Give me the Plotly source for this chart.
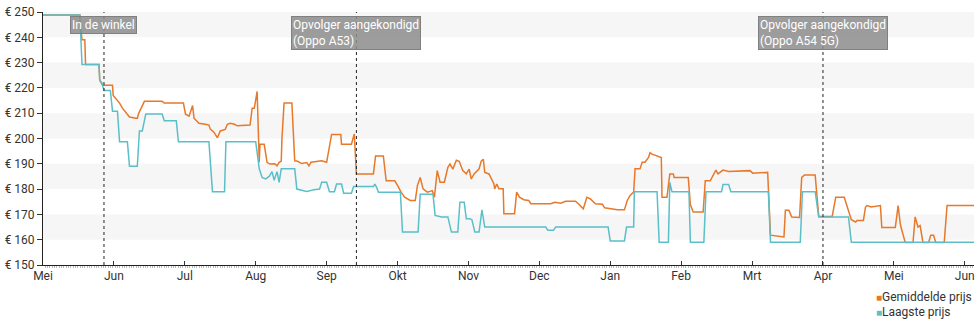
import plotly.graph_objects as go

# x positions are in months since "Mei" (0 = Mei, 1 = Jun, ...)
month_labels = ["Mei", "Jun", "Jul", "Aug", "Sep", "Okt", "Nov", "Dec",
                "Jan", "Feb", "Mrt", "Apr", "Mei", "Jun"]
y_ticks = [150, 160, 170, 180, 190, 200, 210, 220, 230, 240, 250]

avg_x = [0.00, 0.52, 0.53, 0.55, 0.59, 0.60, 0.79, 0.80, 0.84, 0.88, 0.98, 0.99, 1.02, 1.08, 1.12,
         1.15, 1.22, 1.31, 1.33, 1.35, 1.38, 1.43, 1.68, 1.71, 1.98, 2.01, 2.06, 2.11, 2.13, 2.20,
         2.29, 2.34, 2.36, 2.41, 2.46, 2.50, 2.57, 2.60, 2.64, 2.70, 2.74, 2.92, 2.95, 2.98, 3.02,
         3.03, 3.05, 3.06, 3.12, 3.16, 3.20, 3.27, 3.30, 3.33, 3.36, 3.37, 3.40, 3.51, 3.54, 3.55,
         3.59, 3.65, 3.72, 3.75, 3.78, 3.83, 3.93, 4.00, 4.03, 4.07, 4.20, 4.21, 4.35, 4.38, 4.39,
         4.42, 4.66, 4.69, 4.80, 4.84, 4.96, 5.00, 5.05, 5.10, 5.18, 5.25, 5.28, 5.32, 5.36, 5.42,
         5.49, 5.52, 5.55, 5.56, 5.60, 5.66, 5.71, 5.74, 5.78, 5.83, 5.87, 5.92, 5.97, 6.01, 6.04,
         6.08, 6.15, 6.18, 6.21, 6.23, 6.29, 6.33, 6.36, 6.37, 6.40, 6.43, 6.49, 6.50, 6.65, 6.68,
         6.72, 6.78, 6.85, 6.88, 7.13, 7.16, 7.22, 7.30, 7.37, 7.51, 7.55, 7.58, 7.62, 7.67, 7.72,
         7.79, 7.89, 7.92, 8.00, 8.10, 8.20, 8.24, 8.28, 8.33, 8.35, 8.42, 8.45, 8.49, 8.54, 8.56,
         8.59, 8.65, 8.72, 8.73, 8.80, 8.84, 8.89, 8.90, 9.10, 9.13, 9.17, 9.31, 9.34, 9.41, 9.45,
         9.49, 9.52, 9.59, 9.67, 9.97, 10.01, 10.22, 10.26, 10.45, 10.47, 10.52, 10.56, 10.67, 10.70,
         10.74, 10.89, 10.92, 10.94, 11.13, 11.18, 11.30, 11.34, 11.40, 11.46, 11.48, 11.57, 11.60,
         11.62, 11.68, 11.81, 11.83, 12.02, 12.06, 12.09, 12.10, 12.16, 12.27, 12.30, 12.34, 12.37,
         12.41, 12.49, 12.52, 12.56, 12.59, 12.71, 12.75, 13.13]
avg_price = [248.8, 248.8, 244, 239, 239, 229.2, 229.2, 223, 221, 221, 221, 217, 216, 214, 212,
             211, 208.5, 208, 208, 210, 212, 214.7, 214.7, 214, 214, 209.6, 208.8, 213, 208, 206,
             205.6, 205.3, 203.7, 202.5, 200.3, 203, 203.6, 205.6, 206, 205.6, 205, 205.3, 212, 212, 218.6,
             210, 190.6, 197.7, 197.7, 190.6, 189.9, 190, 189.2, 190.6, 191, 200, 214, 214, 200, 191.2,
             191, 190.1, 190.5, 189.2, 190.6, 190.8, 191.2, 190.6, 196, 201.6, 201.6, 197.7, 197.7, 201, 201.8,
             186, 186, 193.1, 193.1, 183.3, 183.3, 181.5, 178.8, 176.8, 175.5, 175.5, 181.4, 184.6, 180.1, 178.8,
             179.4, 176.8, 185.3, 187.3, 182.7, 182.7, 188.6, 189.9, 187.9, 191.4, 191, 187.3, 186, 187.9, 184,
             186, 188, 191, 191.8, 186.6, 186, 183.3, 182, 180.1, 182, 180.1, 180.1, 170.3, 170.3, 178.8,
             176.8, 175.8, 175.5, 174.2, 174, 174.2, 174.8, 174.4, 175.2, 175.2, 174.2, 173.5, 172.2, 176.8, 176.1,
             174.2, 174, 172.6, 172.2, 171.8, 171.8, 175.5, 177.5, 178.8, 188, 188, 190.6, 190.6, 192.5, 194.4,
             193.8, 193.1, 192.5, 176.8, 176.8, 186, 186, 184.6, 184.6, 173.9, 170.9, 170.9, 183.3, 183.3, 185.3,
             187.5, 186, 187.5, 187, 187.3, 186.3, 186.6, 161.8, 161.1, 171.6, 171.6, 169, 168.8, 184.6,
             185.6, 185.6, 175.5, 169.2, 169.2, 176.8, 176.8, 172.9, 167.9, 167, 167.6, 167.6, 172.9,
             173.5, 172.9, 173.5, 164.8, 164.8, 173.5, 166.3, 165, 158.9, 158.9, 169, 165, 165.6,
             158.9, 158.9, 161.8, 161.8, 158.9, 158.9, 173.5, 173.5]

low_x = [0.00, 0.52, 0.55, 0.79, 0.80, 0.83, 0.86, 0.95, 0.98, 1.05, 1.08, 1.19, 1.22, 1.33, 1.36,
         1.40, 1.45, 1.68, 1.71, 1.88, 1.91, 2.34, 2.39, 2.56, 2.58, 3.00, 3.05, 3.09, 3.14, 3.19,
         3.23, 3.26, 3.30, 3.33, 3.36, 3.55, 3.58, 3.72, 3.82, 3.90, 3.93, 4.00, 4.04, 4.11, 4.14,
         4.21, 4.24, 4.35, 4.38, 4.66, 4.68, 4.70, 4.73, 5.04, 5.07, 5.29, 5.32, 5.50, 5.53, 5.62,
         5.71, 5.76, 5.85, 5.88, 5.94, 5.97, 6.02, 6.05, 6.09, 6.15, 6.19, 6.23, 7.09, 7.12, 7.20,
         7.23, 7.97, 8.00, 8.20, 8.23, 8.33, 8.34, 8.66, 8.69, 8.82, 8.84, 8.87, 9.11, 9.13, 9.32,
         9.35, 9.57, 9.59, 9.67, 9.70, 10.23, 10.26, 10.68, 10.71, 10.89, 10.94, 11.36, 11.40, 13.13]
low_price = [248.8, 248.8, 229.2, 229.2, 223, 222, 219, 219, 210.8, 210.8, 198.7, 198.7, 189, 189, 203,
             203, 209.7, 209.7, 207, 207, 198.7, 198.7, 179, 179, 198.7, 198.7, 188, 184.6, 184, 185,
             186.9, 183.5, 186.9, 182.7, 188, 188, 180, 179.1, 179.7, 180, 182.7, 182.7, 179, 179, 182,
             182, 178.4, 178.4, 181, 181, 182, 181, 178.8, 178.8, 163, 163, 178, 178, 169.6, 169,
             169, 163, 163, 174.8, 174.8, 168.3, 168.3, 167.8, 163, 163, 171.8, 165, 165, 163.7, 163.7,
             165, 165, 159.5, 159.5, 165, 165, 179, 179, 159, 159, 182.6, 179, 179, 159, 159,
             179, 179, 181.8, 181.8, 179, 179, 159, 159, 179, 179, 169, 169, 159, 159]

events_x = [0.86, 4.42, 11.0]
events_text = ["In de winkel", "Opvolger aangekondigd<br>(Oppo A53)",
               "Opvolger aangekondigd<br>(Oppo A54 5G)"]

series_names = ["Gemiddelde prijs", "Laagste prijs"]
ORANGE = "#e8782a"
TEAL = "#5bbfc9"
FONT = "Roboto"

fig = go.Figure()

fig.add_trace(go.Scatter(x=avg_x, y=avg_price, mode="lines", name=series_names[0],
                         line=dict(color=ORANGE, width=1.5), hoverinfo="skip"))
fig.add_trace(go.Scatter(x=low_x, y=low_price, mode="lines", name=series_names[1],
                         line=dict(color=TEAL, width=1.5), hoverinfo="skip"))

# alternating horizontal bands
for lo in y_ticks[1::2]:
    fig.add_shape(type="rect", xref="paper", yref="y", x0=0, x1=1, y0=lo, y1=lo + 10,
                  fillcolor="#f6f6f6", line=dict(width=0), layer="below")

for ex, et in zip(events_x, events_text):
    fig.add_shape(type="line", xref="x", yref="paper", x0=ex, x1=ex, y0=0, y1=1,
                  line=dict(color="#222", width=1, dash="dot"), layer="above")
    fig.add_annotation(x=ex, xref="x", y=0.985, yref="paper", yanchor="top", xanchor="center",
                       text=et, showarrow=False, align="left",
                       font=dict(family=FONT, size=12, color="white"),
                       bgcolor="rgba(140,140,140,0.85)", bordercolor="rgba(120,120,120,0.9)",
                       borderwidth=1, borderpad=1)

# legend (square swatches, compact spacing, left aligned)
for i, (nm, col) in enumerate(zip(series_names, [ORANGE, TEAL])):
    fig.add_annotation(x=0.893, xref="paper", xanchor="left", y=-0.125 - i * 0.059, yref="paper",
                       yanchor="middle", showarrow=False, align="left",
                       text="<span style='color:%s;font-size:10px'>■</span>%s" % (col, nm),
                       font=dict(family=FONT, size=12, color="#333"))

fig.update_xaxes(range=[0, 13.13], tickmode="array", tickvals=list(range(len(month_labels))),
                 ticktext=month_labels, ticks="inside", ticklen=4, tickcolor="#333",
                 showline=True, linecolor="#222", linewidth=1, showgrid=False, zeroline=False,
                 tickfont=dict(family=FONT, size=12, color="#333"),
                 minor=dict(ticks="outside", ticklen=2, dtick=12 / 365.25, tick0=0,
                            tickcolor="#bbb", showgrid=False))
fig.update_yaxes(range=[150, 250], tickmode="array", tickvals=y_ticks,
                 ticktext=["€ %d" % v for v in y_ticks], ticks="outside", ticklen=5,
                 tickcolor="#333", showline=True, linecolor="#222", linewidth=1,
                 showgrid=False, zeroline=False,
                 tickfont=dict(family=FONT, size=12, color="#333"))

fig.update_layout(width=980, height=325, margin=dict(l=40, r=5, t=10, b=60),
                  paper_bgcolor="white", plot_bgcolor="white",
                  font=dict(family=FONT, size=12, color="#333"),
                  showlegend=False)

fig.write_html("out.html")
